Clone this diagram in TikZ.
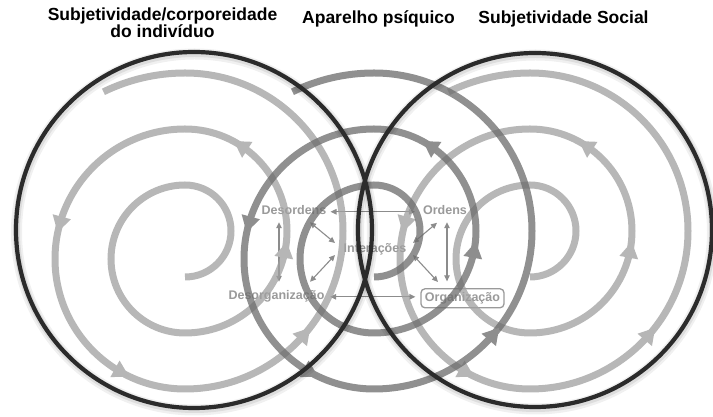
\documentclass[tikz,border=0pt]{standalone}
\usepackage{fontspec}
\setmainfont{Liberation Sans}
\usetikzlibrary{arrows.meta}
\definecolor{lightsp}{HTML}{A0A0A0}
\definecolor{lighthead}{HTML}{B6B6B6}
\definecolor{midsp}{HTML}{6C6C6C}
\definecolor{midhead}{HTML}{8E8E8E}
\definecolor{darkc}{HTML}{2B2B2B}
\definecolor{lbl}{HTML}{9A9A9A}
\definecolor{arr}{HTML}{8C8C8C}
\tikzset{
  sphead/.pic={\fill (8,0) -- (-8,9.5) -- (-8,-9.5) -- cycle;},
  lab/.style={font=\fontsize{12.5}{14}\selectfont\bfseries, text=lbl, inner sep=2pt, text height=9pt, text depth=2.6pt},
  dar/.style={draw=arr, line width=1.1pt, {Triangle[length=6pt,width=5.5pt]}-{Triangle[length=6pt,width=5.5pt]}},
  titletext/.style={font=\fontsize{17.5}{14.5}\selectfont\bfseries, text=black, inner sep=0pt, align=center},
  bigc/.style={draw=darkc, line width=4.2pt},
  bigshadow/.style={draw=black, opacity=0.06, line width=11pt},
  bigshadowb/.style={draw=black, opacity=0.08, line width=7pt},
}
\newcommand\spiralline[2]{%
\draw[draw=#2, line width=7pt, opacity=0.75] (#1,140) arc[start angle=-90,end angle=90,radius=46pt]
  arc[start angle=90,end angle=270,radius=74pt]
  arc[start angle=-90,end angle=90,radius=102pt]
  arc[start angle=90,end angle=270,radius=130pt]
  arc[start angle=-90,end angle=90,radius=158pt]
  arc[start angle=90,end angle=116,radius=186pt];}
\newcommand\spiralheads[2]{%
\begin{scope}[fill=#2]
\path (#1,186) ++(-10.6:102pt) pic[rotate=79.4]{sphead};
\path (#1,186) ++(57:102pt) pic[rotate=147]{sphead};
\path (#1,158) ++(164.6:130pt) pic[rotate=254.6]{sphead};
\path (#1,158) ++(241:130pt) pic[rotate=331]{sphead};
\path (#1,186) ++(-40.6:158pt) pic[rotate=49.4]{sphead};
\end{scope}}
\begin{document}
\begin{tikzpicture}[x=1pt,y=1pt]
\useasboundingbox (0,0) rectangle (713,417);
\fill[white] (0,0) rectangle (713,417);
% central diagram
\node[lab] (des) at (294,205.2) {Desordens};
\node[lab] (ord) at (445,205.2) {Ordens};
\node[lab] (inter) at (375,167.2) {Interações};
\node[lab] (desorg) at (276.5,120.2) {Desorganização};
\node[lab, draw=lbl, line width=1.3pt, rounded corners=4pt, inner xsep=4pt, inner ysep=3.7pt] (org) at (462.5,118.7) {Organização};
\draw[dar, shorten <=2pt, shorten >=6pt] (des.east) -- (ord.west);
\draw[dar, shorten <=3.5pt, shorten >=5pt] (desorg.east) -- (desorg.east -| org.west);
\draw[dar, shorten <=7pt, shorten >=2.4pt] ([xshift=2.5pt]desorg.north) -- ([xshift=2.5pt]desorg.north |- des.south);
\draw[dar, shorten <=2.4pt, shorten >=6.8pt] ([xshift=2pt]ord.south) -- ([xshift=2pt]ord.south |- org.north);
\draw[dar] ([shift={(16,-10.5)}]des.center) -- ([shift={(-40,6.8)}]inter.center);
\draw[dar] ([shift={(33.5,15)}]desorg.center) -- ([shift={(-40,-5.2)}]inter.center);
\draw[dar] ([shift={(-8,-11)}]ord.center) -- ([shift={(38,6.8)}]inter.center);
\draw[dar] ([shift={(-24.5,16.3)}]org.center) -- ([shift={(38,-5.2)}]inter.center);
% spirals
\spiralline{185}{lightsp}
\spiralline{530}{lightsp}
\spiralheads{185}{lighthead}
\spiralheads{530}{lighthead}
\spiralline{374}{midsp}
\spiralheads{374}{midhead}
% big circles
\draw[bigshadow] (194.5,185) circle[radius=178pt];
\draw[bigshadow] (535.5,185) circle[radius=177pt];
\draw[bigshadowb] (194.5,185.5) circle[radius=178pt];
\draw[bigshadowb] (535.5,185.5) circle[radius=177pt];
\draw[bigc] (194,187) circle[radius=178pt];
\draw[bigc] (535,187) circle[radius=177pt];
% titles
\node[titletext, anchor=base] (t1) at (162.5,379.3) {Subjetividade/corporeidade\\do indivíduo};
\node[titletext, anchor=base] (t2) at (378.5,393) {Aparelho psíquico};
\node[titletext, anchor=base] (t3) at (563.5,393) {Subjetividade Social};
\end{tikzpicture}
\end{document}
